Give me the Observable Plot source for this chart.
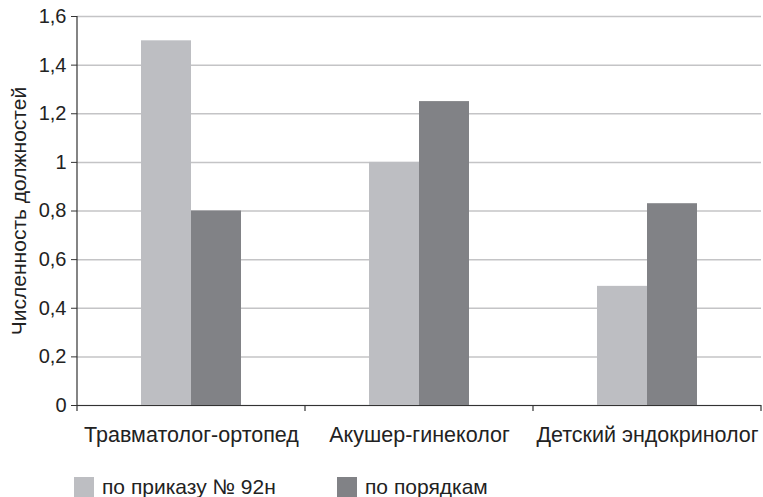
<!DOCTYPE html>
<html>
<head>
<meta charset="utf-8">
<script src="https://cdn.jsdelivr.net/npm/d3@7"></script>
<script src="https://cdn.jsdelivr.net/npm/@observablehq/plot@0.6"></script>
<style>
  body { margin: 0; background: #fff; font-family: "Liberation Sans", Arial, sans-serif; overflow: hidden; }
  #wrap { position: relative; width: 763px; height: 497px; overflow: hidden; }
  #legend { position: absolute; left: 0; top: 477px; width: 763px; height: 20px; font-size: 21px; color: #222; }
  .item { position: absolute; top: 0; display: flex; align-items: center; height: 20px; line-height: 20px; white-space: nowrap; }
  .sw { width: 20px; height: 20px; margin-right: 8px; flex: none; }
</style>
</head>
<body>
<div id="wrap"><div id="chart"></div><div id="legend"></div></div>
<script>
const categories = ["Травматолог-ортопед", "Акушер-гинеколог", "Детский эндокринолог"];
const seriesNames = ["по приказу № 92н", "по порядкам"];
const byOrder92n = [1.5, 1.0, 0.49];
const byProcedures = [0.8, 1.25, 0.83];
const yTicks = [0, 0.2, 0.4, 0.6, 0.8, 1, 1.2, 1.4, 1.6];
const yLabel = "Численность должностей";
const colors = ["#bdbec2", "#818286"];

const data = [];
categories.forEach((c, i) => {
  data.push({cat: c, series: seriesNames[0], value: byOrder92n[i]});
  data.push({cat: c, series: seriesNames[1], value: byProcedures[i]});
});

const fmt = d => String(d).replace(".", ",");

const plot = Plot.plot({
  width: 763,
  height: 450,
  marginLeft: 76,
  marginRight: 1,
  marginTop: 16,
  marginBottom: 45,
  style: {fontFamily: "'Liberation Sans', Arial, sans-serif", fontSize: "20px", color: "#222", background: "#fff"},
  fx: {domain: categories, paddingInner: 0, paddingOuter: 0, label: null},
  x: {domain: seriesNames, paddingInner: 0, paddingOuter: 1.26, axis: null},
  y: {domain: [0, 1.6]},
  color: {domain: seriesNames, range: colors},
  marks: [
    Plot.gridY(yTicks, {stroke: "#c4c4c6", strokeOpacity: 1, strokeWidth: 1.5}),
    Plot.barY(data, {fx: "cat", x: "series", y: "value", fill: "series"}),
    Plot.ruleY([0], {stroke: "#333", strokeWidth: 1.2}),
    Plot.axisY({ticks: yTicks, tickFormat: fmt, tickSize: 6, tickPadding: 5, fontSize: 20,
      label: null, stroke: "#333"}),
    Plot.axisY({ticks: [], label: yLabel, labelAnchor: "center", labelArrow: "none", labelOffset: 66, fontSize: 21}),
    Plot.axisFx({anchor: "bottom", tickSize: 0, tickPadding: 21, fontSize: 21.5, label: null})
  ]
});

document.getElementById("chart").appendChild(plot);

// axis line and category boundary ticks drawn from the plot's own scales
const fx = plot.scale("fx");
const ys = plot.scale("y");
const svg = d3.select(plot);
const y0 = ys.apply(0), yTop = ys.apply(1.6);
const left = fx.apply(categories[0]);
svg.append("line").attr("x1", left).attr("x2", left).attr("y1", yTop).attr("y2", y0 + 6)
  .attr("stroke", "#333").attr("stroke-width", 1.2);
categories.forEach(c => {
  const xr = fx.apply(c) + fx.bandwidth;
  svg.append("line").attr("x1", xr).attr("x2", xr).attr("y1", y0).attr("y2", y0 + 6)
    .attr("stroke", "#333").attr("stroke-width", 1.2);
});

// legend
const legend = document.getElementById("legend");
const lefts = [74, 337];
seriesNames.forEach((s, i) => {
  const it = document.createElement("div");
  it.className = "item";
  it.style.left = lefts[i] + "px";
  const sw = document.createElement("div");
  sw.className = "sw";
  sw.style.background = colors[i];
  const t = document.createElement("span");
  t.textContent = s;
  it.appendChild(sw); it.appendChild(t);
  legend.appendChild(it);
});
</script>
</body>
</html>
